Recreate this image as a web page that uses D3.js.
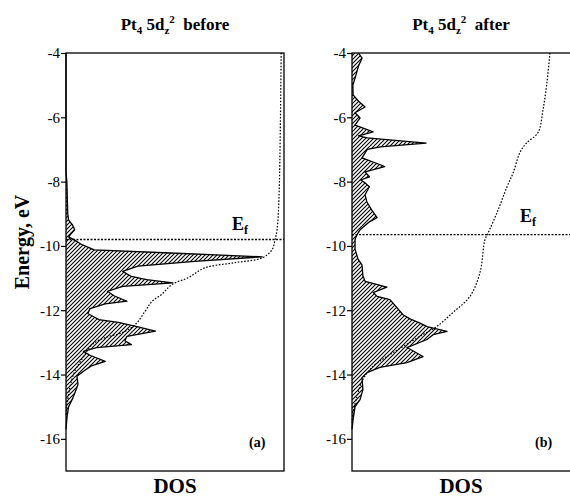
<!DOCTYPE html>
<html>
<head>
<meta charset="utf-8">
<script src="https://cdn.jsdelivr.net/npm/d3@7"></script>
<style>
  body { margin: 0; background: #fff; }
  svg text { font-family: "Liberation Serif", "Times New Roman", serif; fill: #000; }
</style>
</head>
<body>
<svg id="chart" width="570" height="497"></svg>
<script>
// ---- data (energies in eV, DOS in arbitrary units) ----
const yTicks = [-4, -6, -8, -10, -12, -14, -16];

// panel (a): before
const dosBeforeE = [-4, -7.7, -8.0, -9.0, -9.2, -9.35, -9.5, -9.65, -9.72, -9.82, -9.95, -10.12, -10.22, -10.34, -10.48, -10.63, -10.79, -10.95, -11.05, -11.15, -11.26, -11.41, -11.55, -11.72, -11.8, -11.95, -12.1, -12.29, -12.38, -12.52, -12.65, -12.81, -12.95, -13.07, -13.16, -13.28, -13.4, -13.59, -13.72, -13.85, -14.05, -14.3, -14.5, -14.75, -15.0, -15.3, -15.7];
const dosBeforeV = [0, 0, 0.004, 0.008, 0.012, 0.03, 0.04, 0.02, 0.012, 0.04, 0.07, 0.13, 0.48, 0.9, 0.59, 0.33, 0.26, 0.3, 0.37, 0.49, 0.26, 0.19, 0.22, 0.28, 0.18, 0.11, 0.1, 0.15, 0.24, 0.33, 0.41, 0.28, 0.27, 0.3, 0.14, 0.08, 0.11, 0.18, 0.12, 0.09, 0.05, 0.055, 0.045, 0.03, 0.012, 0.005, 0];
const intBeforeE = [-4, -8.5, -9.5, -9.81, -10.12, -10.37, -10.52, -10.68, -10.99, -11.2, -11.5, -11.73, -12.04, -12.45, -12.7, -12.85, -13.07, -13.47, -13.9, -14.4, -14.93, -15.3];
const intBeforeV = [0.987, 0.977, 0.968, 0.959, 0.945, 0.90, 0.775, 0.638, 0.56, 0.486, 0.44, 0.394, 0.362, 0.317, 0.257, 0.18, 0.12, 0.078, 0.04, 0.018, 0.005, 0];
const fermiBefore = -9.8;

// panel (b): after
const dosAfterE = [-4.0, -4.16, -4.4, -4.78, -5.0, -5.3, -5.5, -5.68, -5.86, -6.02, -6.24, -6.45, -6.58, -6.64, -6.8, -6.92, -7.0, -7.26, -7.53, -7.7, -7.85, -7.95, -8.04, -8.16, -8.41, -8.63, -8.88, -9.12, -9.25, -9.5, -9.65, -9.8, -10.1, -10.4, -10.6, -10.93, -11.1, -11.28, -11.45, -11.57, -11.67, -11.92, -12.14, -12.27, -12.4, -12.51, -12.66, -12.76, -12.91, -13.16, -13.44, -13.63, -13.78, -13.94, -14.1, -14.47, -14.78, -15.0, -15.4, -15.7];
const dosAfterV = [0.03, 0.046, 0.03, 0.014, 0.004, 0.005, 0.03, 0.06, 0.014, 0.037, 0.014, 0.097, 0.03, 0.07, 0.34, 0.13, 0.07, 0.046, 0.15, 0.06, 0.08, 0.04, 0.06, 0.08, 0.06, 0.068, 0.09, 0.115, 0.08, 0.037, 0.023, 0.014, 0.014, 0.027, 0.046, 0.05, 0.06, 0.16, 0.097, 0.115, 0.174, 0.206, 0.234, 0.266, 0.312, 0.344, 0.436, 0.372, 0.344, 0.252, 0.326, 0.252, 0.128, 0.069, 0.046, 0.05, 0.037, 0.014, 0.005, 0];
const intAfterE = [-4, -4.93, -5.77, -6.48, -6.8, -7.1, -7.73, -8.16, -8.97, -9.6, -9.8, -10.83, -11.57, -12.07, -12.5, -12.81, -13.13, -13.44, -13.75, -14.15, -14.68, -15.18, -15.5];
const intAfterV = [0.908, 0.894, 0.876, 0.853, 0.80, 0.77, 0.739, 0.711, 0.665, 0.624, 0.61, 0.587, 0.541, 0.463, 0.39, 0.312, 0.234, 0.16, 0.096, 0.05, 0.023, 0.005, 0];
const fermiAfter = -9.65;

// ---- layout ----
const svg = d3.select("#chart");
const plotTop = 53, plotBottom = 471;
const y = d3.scaleLinear().domain([-17, -4]).range([plotBottom, plotTop]);

// hatch pattern
const defs = svg.append("defs");
defs.append("pattern")
  .attr("id", "hatch")
  .attr("patternUnits", "userSpaceOnUse")
  .attr("width", 4).attr("height", 4)
  .append("path")
  .attr("d", "M-1,1 l2,-2 M0,4 l4,-4 M3,5 l2,-2")
  .attr("stroke", "#000")
  .attr("stroke-width", 1.1);

const panels = [
  { x0: 66, x1: 284, dosE: dosBeforeE, dosV: dosBeforeV, intE: intBeforeE, intV: intBeforeV,
    fermi: fermiBefore, title: "before", tag: "(a)", efX: 232, efY: 230 },
  { x0: 352, x1: 571, dosE: dosAfterE, dosV: dosAfterV, intE: intAfterE, intV: intAfterV,
    fermi: fermiAfter, title: "after", tag: "(b)", efX: 520, efY: 222 }
];

panels.forEach(p => {
  const x = d3.scaleLinear().domain([0, 1]).range([p.x0, p.x0 + 218]);
  const g = svg.append("g");

  const dos = d3.zip(p.dosE, p.dosV);
  const integ = d3.zip(p.intE, p.intV);

  // hatched DOS
  const area = d3.area()
    .y(d => y(d[0]))
    .x0(x(0))
    .x1(d => x(d[1]));
  g.append("path")
    .datum(dos)
    .attr("d", area)
    .attr("fill", "url(#hatch)")
    .attr("stroke", "none");
  g.append("path")
    .datum(dos)
    .attr("d", d3.line().y(d => y(d[0])).x(d => x(d[1])))
    .attr("fill", "none")
    .attr("stroke", "#000")
    .attr("stroke-width", 1.3)
    .attr("stroke-linejoin", "round");

  // integrated DOS (dotted)
  g.append("path")
    .datum(integ)
    .attr("d", d3.line().y(d => y(d[0])).x(d => x(d[1])).curve(d3.curveCatmullRom))
    .attr("fill", "none")
    .attr("stroke", "#000")
    .attr("stroke-width", 1.2)
    .attr("stroke-dasharray", "1.6,1.6");

  // Fermi level
  g.append("line")
    .attr("x1", p.x0).attr("x2", p.x1)
    .attr("y1", y(p.fermi)).attr("y2", y(p.fermi))
    .attr("stroke", "#000")
    .attr("stroke-width", 1.3)
    .attr("stroke-dasharray", "2,1.5");

  // frame
  g.append("rect")
    .attr("x", p.x0).attr("y", plotTop)
    .attr("width", p.x1 - p.x0).attr("height", plotBottom - plotTop)
    .attr("fill", "none")
    .attr("stroke", "#000")
    .attr("stroke-width", 1.3);

  // y axis
  const ax = g.append("g")
    .attr("transform", `translate(${p.x0},0)`)
    .call(d3.axisLeft(y).tickValues(yTicks).tickSize(5).tickPadding(1).tickFormat(d => String(d)));
  ax.select(".domain").remove();
  ax.selectAll("line").attr("stroke-width", 1.2);
  ax.selectAll("text")
    .style("font-family", "'Liberation Serif', serif")
    .style("font-size", "15px");

  // title
  const cx = p.x0 + 109;
  const t = svg.append("text")
    .attr("x", cx).attr("y", 30)
    .attr("text-anchor", "middle")
    .style("font-size", "17px")
    .style("font-weight", "bold");
  t.append("tspan").text("Pt");
  t.append("tspan").attr("dy", 4).style("font-size", "11px").text("4");
  t.append("tspan").attr("dy", -4).text(" 5d");
  t.append("tspan").attr("dy", 4).style("font-size", "11px").text("z");
  t.append("tspan").attr("dy", -11).style("font-size", "11px").text("2");
  t.append("tspan").attr("dy", 7).text("\u00a0 " + p.title);

  // E_f label
  const ef = svg.append("text")
    .attr("x", p.efX).attr("y", p.efY)
    .style("font-size", "18px")
    .style("font-weight", "bold");
  ef.append("tspan").text("E");
  ef.append("tspan").attr("dy", 4).style("font-size", "12px").text("f");

  // panel tag
  svg.append("text")
    .attr("x", p.x0 + 183).attr("y", 447)
    .style("font-size", "14px")
    .style("font-weight", "bold")
    .text(p.tag);

  // x label
  svg.append("text")
    .attr("x", cx).attr("y", 493)
    .attr("text-anchor", "middle")
    .style("font-size", "21px")
    .style("font-weight", "bold")
    .text("DOS");
});

// y label
svg.append("text")
  .attr("transform", "translate(29,242) rotate(-90)")
  .attr("text-anchor", "middle")
  .style("font-size", "20px")
  .style("font-weight", "bold")
  .text("Energy, eV");
</script>
</body>
</html>
